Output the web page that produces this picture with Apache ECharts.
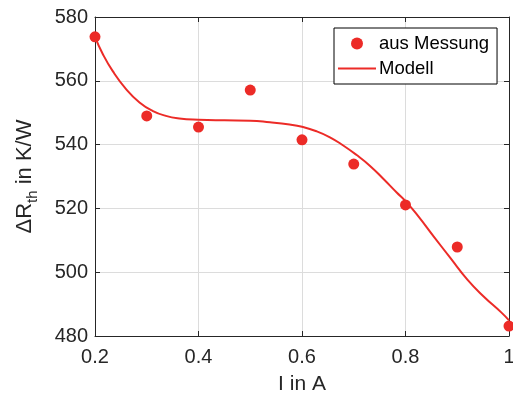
<!DOCTYPE html>
<html>
<head>
<meta charset="utf-8">
<script src="https://cdn.jsdelivr.net/npm/echarts@6/dist/echarts.min.js"></script>
<style>html,body{margin:0;padding:0;background:#fff}#c{width:513px;height:394px}</style>
</head>
<body>
<div id="c"></div>
<script>
// Measured points
const measX = [0.2, 0.3, 0.4, 0.5, 0.6, 0.7, 0.8, 0.9, 1.0];
const measY = [573.8, 549, 545.5, 557.1, 541.5, 533.9, 521.1, 507.9, 483.1];
// Model curve
const modelX = [0.2, 0.215, 0.234, 0.26, 0.286, 0.311, 0.337, 0.363, 0.4, 0.45, 0.5, 0.538, 0.576, 0.6, 0.628, 0.654, 0.679, 0.705, 0.731, 0.757, 0.783, 0.8, 0.823, 0.855, 0.887, 0.92, 0.951, 0.985, 1.0];
const modelY = [573.8, 568.4, 563.1, 557.4, 553.2, 550.6, 549.0, 548.2, 547.8, 547.6, 547.5, 547.0, 546.3, 545.6, 544.2, 542.3, 539.8, 536.8, 533.4, 529.3, 525.0, 522.3, 517.9, 511.1, 504.4, 497.6, 492.4, 487.4, 484.9];
const xTicks = ['0.2', '0.4', '0.6', '0.8', '1'];
const yTicks = ['480', '500', '520', '540', '560', '580'];

const RED = '#ec2b27';
const AX = '#262626';
const FONT = 'Liberation Sans, Arial, sans-serif';

const chart = echarts.init(document.getElementById('c'), null, {renderer: 'canvas'});
const zip = (a, b) => a.map((v, i) => [v, b[i]]);

chart.setOption({
  animation: false,
  backgroundColor: '#fff',
  grid: {left: 95, right: 4, top: 17, bottom: 58, containLabel: false, outerBoundsMode: 'none'},
  legend: {
    orient: 'vertical',
    left: 334, top: 28,
    width: 164,
    padding: [6, 8, 6, 4],
    itemGap: 6,
    itemWidth: 38, itemHeight: 12,
    borderColor: '#000', borderWidth: 1,
    backgroundColor: '#fff',
    textStyle: {fontFamily: FONT, fontSize: 18.5, color: '#000', padding: [0, 0, 0, -2]},
    data: [
      {name: 'aus Messung', icon: 'circle'},
      {name: 'Modell', icon: 'path://M0,0H38V2H0Z'}
    ]
  },
  xAxis: [{
    type: 'value', min: 0.2, max: 1, interval: 0.2,
    name: 'I in A', nameLocation: 'middle', nameGap: 38,
    nameTextStyle: {fontFamily: FONT, fontSize: 21, color: AX},
    axisLine: {show: true, lineStyle: {color: AX, width: 1}},
    axisTick: {show: true, inside: true, length: 5, lineStyle: {color: AX}},
    axisLabel: {fontFamily: FONT, fontSize: 20, color: AX, margin: 11,
      formatter: v => xTicks[Math.round((v - 0.2) / 0.2)]},
    splitLine: {show: true, lineStyle: {color: '#dcdcdc', width: 1}}
  }, {
    type: 'value', min: 0.2, max: 1, interval: 0.2, position: 'top',
    axisLine: {show: true, onZero: false, lineStyle: {color: AX, width: 1}},
    axisTick: {show: true, inside: true, length: 5, lineStyle: {color: AX}},
    axisLabel: {show: false}, splitLine: {show: false}
  }],
  yAxis: [{
    type: 'value', min: 480, max: 580, interval: 20,
    name: '{a|ΔR}{b|th}{a| in K/W}', nameLocation: 'middle', nameGap: 54,
    nameTextStyle: {
      fontFamily: FONT, color: AX,
      rich: {
        a: {fontFamily: FONT, fontSize: 22, color: AX, lineHeight: 32, verticalAlign: 'middle'},
        b: {fontFamily: FONT, fontSize: 15, color: AX, lineHeight: 32, verticalAlign: 'middle', padding: [15, 0, 0, 0]}
      }
    },
    axisLine: {show: true, lineStyle: {color: AX, width: 1}},
    axisTick: {show: true, inside: true, length: 5, lineStyle: {color: AX}},
    axisLabel: {fontFamily: FONT, fontSize: 20, color: AX, margin: 7,
      formatter: v => yTicks[Math.round((v - 480) / 20)]},
    splitLine: {show: true, lineStyle: {color: '#dcdcdc', width: 1}}
  }, {
    type: 'value', min: 480, max: 580, interval: 20, position: 'right',
    axisLine: {show: true, onZero: false, lineStyle: {color: AX, width: 1}},
    axisTick: {show: true, inside: true, length: 5, lineStyle: {color: AX}},
    axisLabel: {show: false}, splitLine: {show: false}
  }],
  series: [{
    name: 'aus Messung', type: 'scatter', symbol: 'circle', symbolSize: 11,
    itemStyle: {color: RED, opacity: 1}, data: zip(measX, measY), z: 3
  }, {
    name: 'Modell', type: 'line', smooth: true, symbol: 'none', showSymbol: false,
    lineStyle: {color: RED, width: 2}, itemStyle: {color: RED},
    data: zip(modelX, modelY), z: 2
  }]
});
</script>
</body>
</html>
